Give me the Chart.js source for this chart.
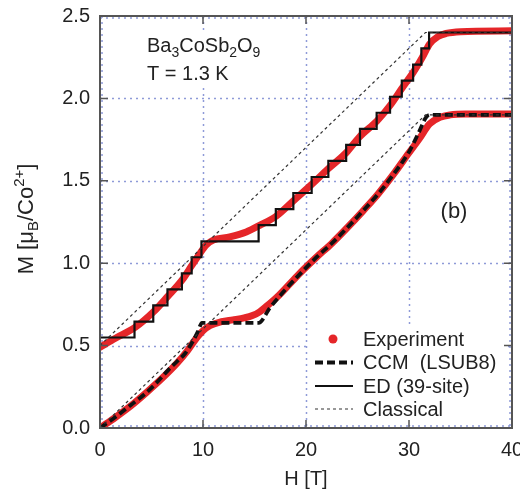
<!DOCTYPE html>
<html><head><meta charset="utf-8">
<script src="https://cdn.jsdelivr.net/npm/chart.js@4.4.0/dist/chart.umd.min.js"></script>
<style>html,body{margin:0;padding:0;background:#fff;}#wrap{width:520px;height:494px;position:relative;}</style>
</head><body><div id="wrap"><canvas id="c" width="520" height="494"></canvas></div>
<script>
// ---- data ----
const xTicks = [0, 10, 20, 30, 40];
const xTickLabels = ['0', '10', '20', '30', '40'];
const yTicks = [0, 0.5, 1.0, 1.5, 2.0, 2.5];
const yTickLabels = ['0.0', '0.5', '1.0', '1.5', '2.0', '2.5'];

const expLowH = [0, 1.5, 3, 4.5, 6, 7.5, 8.5, 9.3, 10, 10.7, 11.8, 12.9, 14, 14.8, 15.5, 16.2, 17.2, 18.4, 19.5, 21, 22.5, 24, 25.5, 27, 28.5, 30, 31, 32, 33, 34, 35.5, 40];
const expLowM = [0, 0.065, 0.135, 0.215, 0.30, 0.395, 0.47, 0.54, 0.59, 0.622, 0.645, 0.656, 0.668, 0.682, 0.705, 0.74, 0.795, 0.873, 0.945, 1.035, 1.12, 1.215, 1.315, 1.42, 1.54, 1.67, 1.755, 1.845, 1.885, 1.9, 1.905, 1.905];

const expUpH = [0, 1.5, 3.4, 5.2, 6.6, 8.0, 8.9, 9.6, 10.3, 11, 12.6, 14.2, 15.5, 17.1, 18.8, 20.5, 22.1, 23.9, 25.2, 26.9, 28.2, 29.3, 30.4, 31.3, 32, 32.8, 33.6, 35, 40];
const expUpM = [0.49, 0.545, 0.61, 0.705, 0.80, 0.90, 0.985, 1.05, 1.11, 1.14, 1.16, 1.19, 1.23, 1.285, 1.38, 1.475, 1.57, 1.67, 1.767, 1.864, 1.96, 2.06, 2.157, 2.25, 2.33, 2.375, 2.394, 2.405, 2.41];

const ccmH = [0, 1.5, 3, 4.4, 5.5, 6.6, 7.5, 8.3, 9.0, 9.5, 9.9, 15.4, 16.5, 18, 19.5, 21, 22.5, 24, 25.5, 27, 28.5, 30, 31, 31.6, 32, 40];
const ccmM = [0, 0.067, 0.14, 0.209, 0.275, 0.35, 0.405, 0.455, 0.525, 0.585, 0.638, 0.638, 0.73, 0.84, 0.94, 1.035, 1.12, 1.215, 1.315, 1.42, 1.54, 1.675, 1.80, 1.88, 1.9, 1.9];

const edH = [0, 3.35, 5.17, 6.55, 7.95, 8.9, 9.85, 15.4, 17.07, 18.77, 20.55, 22.17, 23.9, 25.24, 26.86, 28.16, 29.3, 30.4, 31.2, 31.95, 40];
const edM = [0.549, 0.646, 0.744, 0.841, 0.938, 1.036, 1.133, 1.231, 1.328, 1.426, 1.523, 1.621, 1.718, 1.815, 1.913, 2.010, 2.108, 2.205, 2.303, 2.40, 2.40];

const clLowH = [0, 31.6, 40];
const clLowM = [0, 1.9, 1.9];
const clUpH = [0, 31.6, 40];
const clUpM = [0.5, 2.4, 2.4];

const legendLabels = ['Experiment', 'CCM  (LSUB8)', 'ED (39-site)', 'Classical'];

// ---- styling ----
const FONT = '"Liberation Sans", Arial, Helvetica, sans-serif';
const RED = '#e52629';
const INK = '#222222';
const FRAME = '#555555';
const GRID = '#8e9ad8';

const pts = (hs, ms) => hs.map((h, i) => ({x: h, y: ms[i]}));

const datasets = [
  {label: legendLabels[3], data: pts(clLowH, clLowM), borderColor: '#333', borderWidth: 1.2, borderDash: [3, 3], order: 1, tension: 0},
  {label: legendLabels[3], data: pts(clUpH, clUpM), borderColor: '#333', borderWidth: 1.2, borderDash: [3, 3], order: 1, tension: 0},
  {label: legendLabels[2], data: pts(edH, edM), borderColor: '#111', borderWidth: 2.2, stepped: 'before', order: 2},
  {label: legendLabels[1], data: pts(ccmH, ccmM), borderColor: '#111', borderWidth: 3.8, borderDash: [8, 4], cubicInterpolationMode: 'monotone', order: 3},
  {label: legendLabels[0], data: pts(expLowH, expLowM), borderColor: RED, borderWidth: 7, cubicInterpolationMode: 'monotone', borderCapStyle: 'round', order: 10},
  {label: legendLabels[0], data: pts(expUpH, expUpM), borderColor: RED, borderWidth: 7, cubicInterpolationMode: 'monotone', borderCapStyle: 'round', order: 10}
];
datasets.forEach(d => { d.pointRadius = 0; d.fill = false; });

function drawRich(ctx, parts, x, y, align) {
  let w = 0;
  parts.forEach(p => { ctx.font = p[1] + 'px ' + FONT; w += ctx.measureText(p[0]).width; });
  let cx = align === 'center' ? x - w / 2 : x;
  parts.forEach(p => {
    ctx.font = p[1] + 'px ' + FONT;
    ctx.fillText(p[0], cx, y + p[2]);
    cx += ctx.measureText(p[0]).width;
  });
}

const decor = {
  id: 'decor',
  beforeDatasetsDraw(chart) {
    const ctx = chart.ctx;
    const a = chart.chartArea;
    const xs = chart.scales.x, ys = chart.scales.y;
    ctx.save();
    ctx.strokeStyle = GRID;
    ctx.lineWidth = 1.5;
    ctx.setLineDash([2, 4]);
    ctx.beginPath();
    xTicks.forEach(v => {
      const px = Math.round(xs.getPixelForValue(v)) + 0.5;
      const pxc = Math.min(Math.max(px, a.left + 2), a.right - 2);
      ctx.moveTo(pxc, a.top); ctx.lineTo(pxc, a.bottom);
    });
    yTicks.forEach(v => {
      const py = Math.round(ys.getPixelForValue(v)) + 0.5;
      const pyc = Math.min(Math.max(py, a.top + 2), a.bottom - 2);
      ctx.moveTo(a.left, pyc); ctx.lineTo(a.right, pyc);
    });
    ctx.stroke();
    ctx.setLineDash([]);
    ctx.fillStyle = '#fff';
    ctx.fillRect(140, 30, 130, 58);
    ctx.fillRect(309, 324, 199, 101);
    ctx.restore();
  },
  afterDraw(chart) {
    const ctx = chart.ctx;
    const a = chart.chartArea;
    const xs = chart.scales.x, ys = chart.scales.y;
    ctx.save();
    ctx.strokeStyle = FRAME;
    ctx.lineWidth = 2;
    ctx.strokeRect(a.left, a.top, a.right - a.left, a.bottom - a.top);
    ctx.lineWidth = 1.5;
    ctx.beginPath();
    xTicks.forEach(v => {
      const px = xs.getPixelForValue(v);
      ctx.moveTo(px, a.bottom); ctx.lineTo(px, a.bottom - 8);
      ctx.moveTo(px, a.top); ctx.lineTo(px, a.top + 8);
    });
    yTicks.forEach(v => {
      const py = ys.getPixelForValue(v);
      ctx.moveTo(a.left, py); ctx.lineTo(a.left + 8, py);
      ctx.moveTo(a.right, py); ctx.lineTo(a.right - 8, py);
    });
    ctx.stroke();

    ctx.fillStyle = INK;
    ctx.textBaseline = 'alphabetic';
    ctx.textAlign = 'left';
    drawRich(ctx, [['Ba', 20, 0], ['3', 14, 5], ['CoSb', 20, 0], ['2', 14, 5], ['O', 20, 0], ['9', 14, 5]], 147, 52, 'left');
    drawRich(ctx, [['T = 1.3 K', 20, 0]], 147, 80, 'left');
    ctx.font = '22px ' + FONT;
    ctx.textAlign = 'center';
    ctx.textBaseline = 'middle';
    ctx.fillText('(b)', 454, 212);

    ctx.font = '20px ' + FONT;
    ctx.fillText('H [T]', 306, 479);

    ctx.save();
    ctx.translate(25, 219);
    ctx.rotate(-Math.PI / 2);
    ctx.textAlign = 'left';
    ctx.textBaseline = 'alphabetic';
    drawRich(ctx, [['M [\u03bc', 22, 0], ['B', 15, 5], ['/Co', 22, 0], ['2+', 15, -9], [']', 22, 0]], 0, 8, 'center');
    ctx.restore();

    const lx0 = 315, lx1 = 353, tx = 363;
    const rows = [339, 362.5, 386, 409];
    ctx.fillStyle = RED;
    ctx.beginPath(); ctx.arc(333, rows[0], 4.5, 0, Math.PI * 2); ctx.fill();
    ctx.strokeStyle = '#111';
    ctx.lineWidth = 3.8; ctx.setLineDash([8, 4]);
    ctx.beginPath(); ctx.moveTo(lx0, rows[1]); ctx.lineTo(lx1, rows[1]); ctx.stroke();
    ctx.lineWidth = 2.2; ctx.setLineDash([]);
    ctx.beginPath(); ctx.moveTo(lx0, rows[2]); ctx.lineTo(lx1, rows[2]); ctx.stroke();
    ctx.strokeStyle = '#333';
    ctx.lineWidth = 1.2; ctx.setLineDash([3, 3]);
    ctx.beginPath(); ctx.moveTo(lx0, rows[3]); ctx.lineTo(lx1, rows[3]); ctx.stroke();
    ctx.setLineDash([]);
    ctx.fillStyle = INK;
    ctx.font = '20px ' + FONT;
    ctx.textAlign = 'left';
    ctx.textBaseline = 'middle';
    legendLabels.forEach((t, i) => ctx.fillText(t, tx, rows[i] + 1));
    ctx.restore();
  }
};

new Chart(document.getElementById('c'), {
  type: 'line',
  data: {datasets},
  plugins: [decor],
  options: {
    responsive: false,
    animation: false,
    devicePixelRatio: 1,
    layout: {padding: {left: 0, right: 8, top: 16, bottom: 0}},
    plugins: {legend: {display: false}, tooltip: {enabled: false}},
    scales: {
      x: {
        type: 'linear', min: 0, max: 40,
        afterBuildTicks: s => { s.ticks = xTicks.map(v => ({value: v})); },
        afterFit: s => { s.height = 66; s.paddingLeft = 0; s.paddingRight = 0; },
        ticks: {font: {family: FONT, size: 20}, color: INK, padding: 10, maxRotation: 0, autoSkip: false,
          callback: (v, i) => xTickLabels[i]},
        grid: {display: false, drawTicks: false},
        border: {display: false}
      },
      y: {
        type: 'linear', min: 0, max: 2.5,
        afterBuildTicks: s => { s.ticks = yTicks.map(v => ({value: v})); },
        afterFit: s => { s.width = 100; s.paddingTop = 0; s.paddingBottom = 0; },
        ticks: {font: {family: FONT, size: 20}, color: INK, padding: 10, autoSkip: false,
          callback: (v, i) => yTickLabels[i]},
        grid: {display: false, drawTicks: false},
        border: {display: false}
      }
    }
  }
});
</script>
</body></html>
